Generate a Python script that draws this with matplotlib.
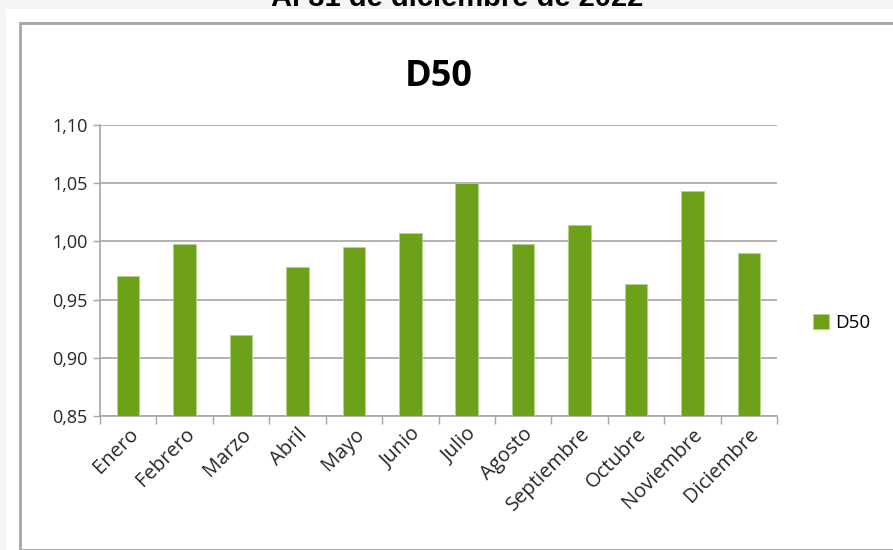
import matplotlib
matplotlib.use("Agg")
from matplotlib import pyplot as plt
from matplotlib.patches import Rectangle

meses = ["Enero", "Febrero", "Marzo", "Abril", "Mayo", "Junio", "Julio",
         "Agosto", "Septiembre", "Octubre", "Noviembre", "Diciembre"]
d50 = [0.970, 0.998, 0.920, 0.978, 0.995, 1.007, 1.050,
       0.998, 1.014, 0.963, 1.043, 0.990]
y_ticks = [0.85, 0.90, 0.95, 1.00, 1.05, 1.10]

verde = "#6ea11a"
gris = "#a6a6a6"

fig = plt.figure(figsize=(8.93, 5.50), dpi=100)
fig.patch.set_facecolor("#f5f5f5")

# white card + chart border (behind the axes)
fig.patches.append(Rectangle((6 / 893, 0), 1, 1 - 9 / 550, transform=fig.transFigure,
                             facecolor="white", edgecolor="none", zorder=-2))
fig.patches.append(Rectangle((19.5 / 893, 0.5 / 550), 1, 1 - 23.5 / 550,
                             transform=fig.transFigure, facecolor="white",
                             edgecolor=gris, linewidth=2, zorder=-1))

fig.text(457 / 893, 1 - 6 / 550, "Al 31 de diciembre de 2022", ha="center",
         va="baseline", fontsize=21, fontweight="bold", family="Liberation Sans",
         color="black")

ax = fig.add_axes([100 / 893, 1 - 416 / 550, 677 / 893, 291 / 550])
ax.set_zorder(2)
ax.set_facecolor("none")
x = list(range(len(meses)))
ax.bar(x, d50, width=0.4, color=verde, edgecolor="#b5d38a", linewidth=0.6,
       label="D50", zorder=3)

ax.set_ylim(0.85, 1.10)
ax.set_xlim(-0.5, len(meses) - 0.5)
ax.set_yticks(y_ticks)
ax.set_yticklabels([f"{v:.2f}".replace(".", ",") for v in y_ticks],
                   family="Open Sans", fontsize=13, color="#262626")
ax.yaxis.grid(True, color=gris, linewidth=1.2, zorder=0)
ax.tick_params(axis="y", length=5, color=gris, width=1, pad=4)

ax.set_xticks(x)
ax.set_xticklabels(meses, rotation=45, ha="right", rotation_mode="anchor",
                   family="Open Sans", fontsize=14.5, color="#262626")
ax.tick_params(axis="x", length=0, pad=6)
ax.set_xticks([i - 0.5 for i in range(len(meses) + 1)], minor=True)
ax.tick_params(axis="x", which="minor", length=6, color=gris, width=1)

for s in ["top", "right"]:
    ax.spines[s].set_visible(False)
for s in ["left", "bottom"]:
    ax.spines[s].set_color(gris)
    ax.spines[s].set_linewidth(1.2)

ax.set_title("D50", family="Open Sans", fontweight="bold", fontsize=26,
             pad=28)

ax.legend(loc="center left", bbox_to_anchor=(1.028, 0.32), frameon=False,
          handlelength=0.85, handleheight=0.85, handletextpad=0.35,
          prop={"family": "Open Sans", "size": 13.5})

fig.savefig("out.png", dpi=100, facecolor=fig.get_facecolor())
